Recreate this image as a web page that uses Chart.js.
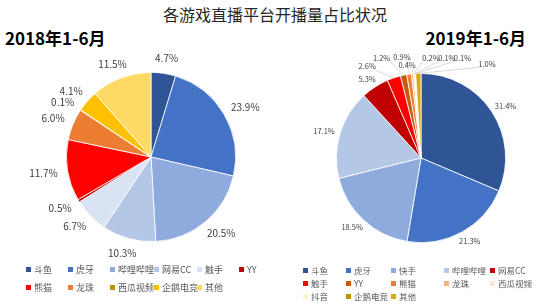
<!DOCTYPE html>
<html>
<head>
<meta charset="utf-8">
<script src="https://cdn.jsdelivr.net/npm/chart.js@4.4.1/dist/chart.umd.min.js"></script>
<style>
  body { margin: 0; background: #fff; font-family: "Noto Sans CJK SC", "Noto Sans", sans-serif; }
  #wrap { position: relative; width: 550px; height: 308px; overflow: hidden; }
  .title { position: absolute; left: 0; width: 550px; top: 2px; text-align: center; font-size: 16px; color: #262626; line-height: 24px; }
  .sub { position: absolute; top: 26px; font-size: 17px; font-weight: bold; color: #000; line-height: 24px; }
  canvas { position: absolute; top: 50px; }
  .legend { position: absolute; font-size: 9px; color: #595959; }
  #legend2019 { font-size: 8.5px; }
  .legend .item { position: absolute; white-space: nowrap; line-height: 12px; }
  .legend .box { display: inline-block; width: 5px; height: 5px; margin-right: 3px; vertical-align: 1px; }
</style>
</head>
<body>
<div id="wrap">
  <div class="title">各游戏直播平台开播量占比状况</div>
  <div class="sub" style="left:5px">2018年1-6月</div>
  <div class="sub" style="right:24px">2019年1-6月</div>
  <canvas id="chart2018" width="275" height="215" style="left:0"></canvas>
  <canvas id="chart2019" width="275" height="215" style="left:275px"></canvas>
  <div class="legend" id="legend2018"></div>
  <div class="legend" id="legend2019"></div>
</div>
<script>
// ===== Data =====
const platforms2018 = ['斗鱼', '虎牙', '哔哩哔哩', '网易CC', '触手', 'YY', '熊猫', '龙珠', '西瓜视频', '企鹅电竞', '其他'];
const share2018 = [4.7, 23.9, 20.5, 10.3, 6.7, 0.5, 11.7, 6.0, 0.1, 4.1, 11.5];
const colors2018 = ['#2f5597', '#4472c4', '#8faadc', '#b4c7e7', '#dae3f3', '#c00000', '#ff0000', '#ed7d31', '#bf9000', '#ffc000', '#ffd966'];

const platforms2019 = ['斗鱼', '虎牙', '快手', '哔哩哔哩', '网易CC', '触手', 'YY', '熊猫', '龙珠', '西瓜视频', '抖音', '企鹅电竞', '其他'];
const share2019 = [31.4, 21.3, 18.5, 17.1, 5.3, 2.6, 1.2, 0.9, 0.4, 0.2, 0.1, 0.1, 1.0];
const colors2019 = ['#2f5597', '#4472c4', '#8faadc', '#b4c7e7', '#c00000', '#ff0000', '#c55a11', '#ed7d31', '#f4b183', '#fbe5d6', '#fff2cc', '#bf9000', '#d6a915'];

const FONT = '"Noto Sans CJK SC", "Noto Sans", sans-serif';

// ===== Percent labels drawn outside the pie (with leader lines for shifted ones) =====
const outsideLabels = {
  id: 'outsideLabels',
  afterDatasetsDraw(chart, args, opts) {
    const ctx = chart.ctx;
    const meta = chart.getDatasetMeta(0);
    const values = chart.data.datasets[0].data;
    ctx.save();
    ctx.font = opts.size + 'px ' + FONT;
    ctx.textAlign = 'center';
    ctx.textBaseline = 'middle';
    meta.data.forEach((arc, i) => {
      const p = arc.getProps(['x', 'y', 'startAngle', 'endAngle', 'outerRadius'], true);
      const mid = (p.startAngle + p.endAngle) / 2;
      const cos = Math.cos(mid), sin = Math.sin(mid);
      const text = values[i].toFixed(1) + '%';
      const w = ctx.measureText(text).width;
      const h = opts.size;
      const r = p.outerRadius + opts.gap;
      let tx = p.x + cos * r + cos * w / 2;
      let ty = p.y + sin * r + sin * h / 2;
      const shift = opts.shifts ? opts.shifts[i] : null;
      if (shift) {
        tx += shift[0];
        ty += shift[1];
        const sx = p.x + cos * p.outerRadius, sy = p.y + sin * p.outerRadius;
        const ex = Math.min(Math.max(sx, tx - w / 2), tx + w / 2);
        const ey = Math.min(Math.max(sy, ty - h / 2), ty + h / 2);
        ctx.strokeStyle = '#bfbfbf';
        ctx.lineWidth = 0.6;
        ctx.beginPath();
        ctx.moveTo(sx, sy);
        ctx.lineTo(ex, ey);
        ctx.stroke();
      }
      ctx.fillStyle = opts.color;
      ctx.fillText(text, tx, ty);
    });
    ctx.restore();
  }
};

function makePie(id, labels, values, colors, padding, labelOpts) {
  return new Chart(document.getElementById(id), {
    type: 'pie',
    data: {
      labels: labels,
      datasets: [{
        data: values,
        backgroundColor: colors,
        borderColor: '#ffffff',
        borderWidth: 0.8
      }]
    },
    options: {
      responsive: false,
      animation: false,
      layout: { padding: padding },
      plugins: {
        legend: { display: false },
        tooltip: { enabled: false },
        outsideLabels: labelOpts
      }
    },
    plugins: [outsideLabels]
  });
}

// build the legend as a grid from the chart's own legend items
function buildLegend(chart, elId, cols, rows, left, top) {
  const el = document.getElementById(elId);
  el.style.left = left + 'px';
  el.style.top = top + 'px';
  const items = chart.options.plugins.legend.labels.generateLabels(chart);
  items.forEach((it, i) => {
    const c = i % cols.length, r = Math.floor(i / cols.length);
    const d = document.createElement('div');
    d.className = 'item';
    d.style.left = cols[c] + 'px';
    d.style.top = rows[r] + 'px';
    d.innerHTML = '<span class="box" style="background:' + it.fillStyle + '"></span>' + it.text;
    el.appendChild(d);
  });
}

const chart2018 = makePie('chart2018', platforms2018, share2018, colors2018,
  { left: 66, right: 39, top: 22, bottom: 23 },
  { size: 10, gap: 10, color: '#404040' });

const chart2019 = makePie('chart2019', platforms2019, share2019, colors2019,
  { left: 61, right: 44, top: 23, bottom: 22 },
  { size: 7.5, gap: 6, color: '#404040',
    shifts: [null, null, null, null, null, [-22, -2], [-19, -8], [-5, -7], [-4, 1], [18, -6], [33, -6], [48, -6], [69, 0]] });

buildLegend(chart2018, 'legend2018', [0, 42, 84, 128, 171, 213], [0, 18], 26, 264);
buildLegend(chart2019, 'legend2019', [0, 43, 88, 141, 187], [0, 13, 26], 303, 264);
</script>
</body>
</html>
